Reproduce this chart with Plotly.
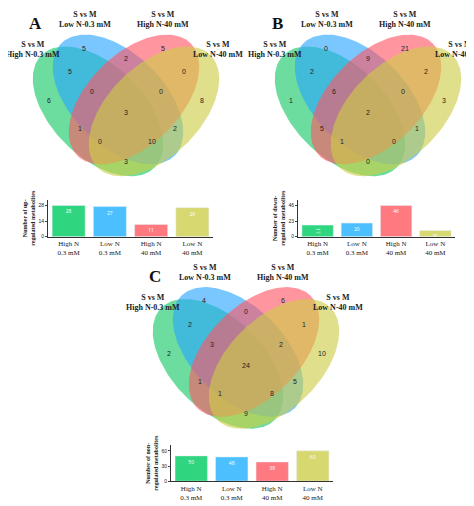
import numpy as np
import plotly.graph_objects as go

# Region order: A, B, C, D, AB, BC, CD, ABC, BCD, ABCD, AC, BD, ACD, ABD, AD
regions = ["A", "B", "C", "D", "AB", "BC", "CD", "ABC", "BCD", "ABCD", "AC", "BD", "ACD", "ABD", "AD"]
counts_A = [6, 5, 5, 8, 5, 2, 0, 0, 0, 3, 1, 2, 0, 10, 3]
counts_B = [1, 0, 21, 3, 2, 9, 2, 6, 0, 2, 5, 1, 1, 0, 0]
counts_C = [2, 4, 6, 10, 2, 0, 1, 3, 2, 24, 1, 5, 1, 8, 9]
set_labels = ["S vs M<br>High N-0.3 mM", "S vs M<br>Low N-0.3 mM", "S vs M<br>High N-40 mM", "S vs M<br>Low N-40 mM"]
bar_categories = ["High N<br>0.3 mM", "Low N<br>0.3 mM", "High N<br>40 mM", "Low N<br>40 mM"]
bar_titles = ["Number of up-<br>regulated metabolites", "Number of down-<br>regulated metabolites", "Number of non-<br>regulated metabolites"]
panel_letters = ["A", "B", "C"]

def set_total(counts, s):
    return sum(c for r, c in zip(regions, counts) if s in r)

FONT = "Liberation Serif"
fills = ["rgba(20,200,100,0.62)", "rgba(40,165,255,0.62)", "rgba(255,85,100,0.62)", "rgba(205,205,70,0.62)"]
barcols = ["#2fd67f", "#4cc0ff", "#ff7a80", "#d8d870"]

# geometry (pixel space, layout only)
ell = [((90, 104), 1), ((110, 92), 1), ((126, 92), -1), ((146, 104), -1)]
region_pos = [(41, 94), (76, 41), (155, 41), (194, 94), (62, 65), (118, 52), (176, 65), (84, 85),
              (153, 85), (118, 106), (72, 122), (167, 122), (92, 135), (144, 135), (118, 155)]
label_pos = [(25, 42), (77, 12), (155, 12), (210, 42)]
offsets = [(0, 0), (242, 0), (120, 254)]
bar_dom = [((40, 205), (193, 230)), ((290, 447), (193, 230)), ((163, 325), (440, 476))]
W, H = 474, 506

fig = go.Figure()
t = np.linspace(0, 2 * np.pi, 200)
a, b = 80, 46
for p, counts in enumerate([counts_A, counts_B, counts_C]):
    ox, oy = offsets[p]
    for k, ((cx, cy), d) in enumerate(ell):
        th = d * np.pi / 4
        ex = a * np.cos(t) * np.cos(th) - b * np.sin(t) * np.sin(th) + cx + ox
        ey = a * np.cos(t) * np.sin(th) + b * np.sin(t) * np.cos(th) + cy + oy
        fig.add_trace(go.Scatter(x=ex, y=ey, mode="lines", fill="toself", fillcolor=fills[k],
                                 line=dict(width=0), hoverinfo="skip", showlegend=False))
    fig.add_trace(go.Scatter(x=[q[0] + ox for q in region_pos], y=[q[1] + oy for q in region_pos],
                             mode="text", text=[str(c) for c in counts],
                             textfont=dict(family="Arial", size=7, color="#222"), showlegend=False))
    for k in range(4):
        fig.add_annotation(x=label_pos[k][0] + ox, y=label_pos[k][1] + oy, xref="x", yref="y",
                           text="<b>" + set_labels[k] + "</b>", showarrow=False,
                           font=dict(family=FONT, size=8, color="#222"))
    fig.add_annotation(x=27 + ox, y=16 + oy, xref="x", yref="y", text="<b>" + panel_letters[p] + "</b>",
                       showarrow=False, font=dict(family=FONT, size=17, color="#111"))

    # bars
    vals = [set_total(counts, s) for s in "ABCD"]
    top = vals[0] if p == 0 else max(vals)
    xa, ya = ("x%d" % (p + 2), "y%d" % (p + 2))
    fig.add_trace(go.Bar(x=bar_categories, y=vals, marker_color=barcols, width=0.8,
                         text=[str(v) for v in vals], textposition="inside", insidetextanchor="end",
                         textfont=dict(size=5, color="white"), showlegend=False,
                         xaxis=xa, yaxis=ya))
    (x0, x1), (y0, y1) = bar_dom[p]
    fig.layout["xaxis%d" % (p + 2)] = dict(domain=[x0 / W, x1 / W], anchor=ya, showline=True,
                                           linecolor="#333", linewidth=1, ticks="",
                                           tickfont=dict(family=FONT, size=7, color="#222"))
    fig.layout["yaxis%d" % (p + 2)] = dict(domain=[1 - y1 / H, 1 - y0 / H], anchor=xa, showline=True,
                                           linecolor="#333", linewidth=1, showgrid=False, zeroline=False,
                                           range=[0, max(vals) * 1.18], tickvals=[0, top / 2, top],
                                           ticks="outside", ticklen=2,
                                           tickfont=dict(family="Arial", size=5, color="#222"),
                                           title=dict(text="<b>" + bar_titles[p] + "</b>", standoff=2,
                                                      font=dict(family=FONT, size=6, color="#222")))

fig.update_layout(
    width=W, height=H, margin=dict(l=0, r=0, t=0, b=0), plot_bgcolor="white", paper_bgcolor="white",
    xaxis=dict(domain=[0, 1], range=[0, W], visible=False, fixedrange=True),
    yaxis=dict(domain=[0, 1], range=[H, 0], visible=False, fixedrange=True),
    bargap=0.2, uniformtext=dict(minsize=4, mode="show"),
)
fig.write_html("out.html")
